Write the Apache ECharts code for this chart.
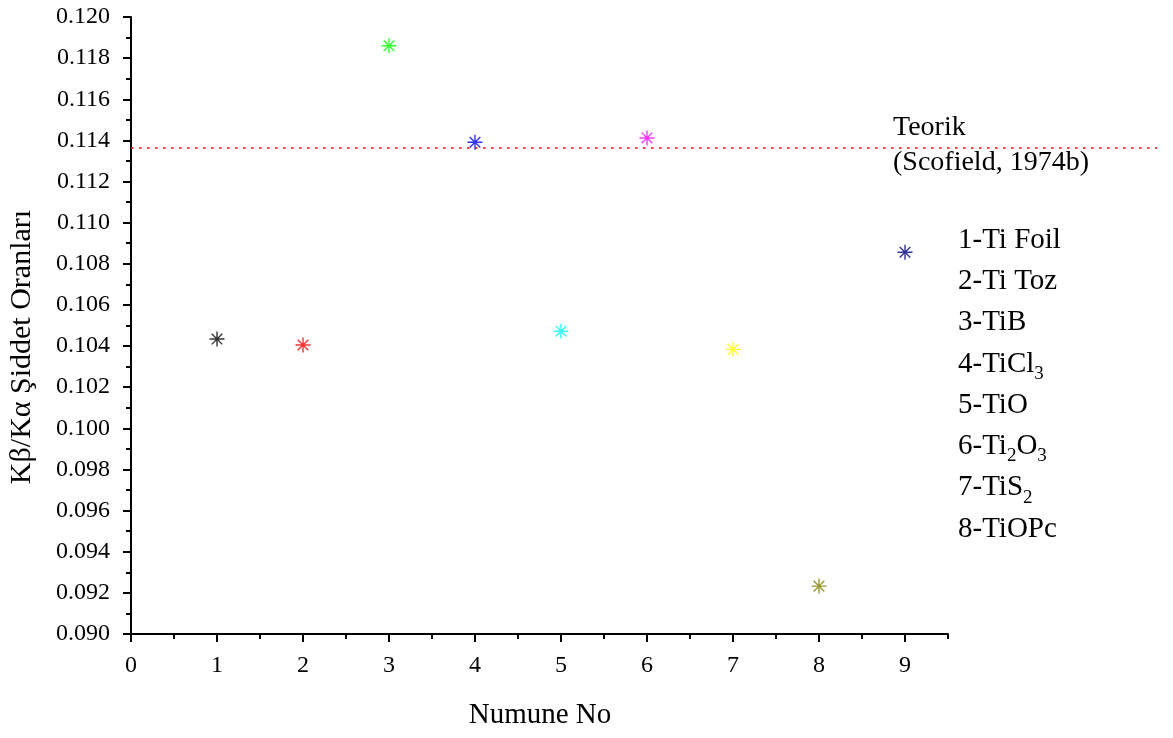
<!DOCTYPE html>
<html><head><meta charset="utf-8">
<script src="https://cdn.jsdelivr.net/npm/echarts@6/dist/echarts.min.js"></script>
<style>html,body{margin:0;padding:0;background:#fff}#c{width:1173px;height:738px}</style>
</head><body><div id="c"></div>
<script>
// Kβ/Kα intensity ratios per sample
const sampleNo = [1, 2, 3, 4, 5, 6, 7, 8, 9];
const ratios = [0.10434, 0.10405, 0.11860, 0.11391, 0.10472, 0.11412, 0.10384, 0.09233, 0.10856];
const pointColors = ['#000000', '#ff0000', '#00ff00', '#0000ff', '#00ffff', '#ff00ff', '#ffff00', '#808000', '#000080'];
const theoretical = 0.11363;
const xTicks = [0, 1, 2, 3, 4, 5, 6, 7, 8, 9];
const xMinorTicks = [0.5, 1.5, 2.5, 3.5, 4.5, 5.5, 6.5, 7.5, 8.5, 9.5];
const sampleNames = ['1-Ti Foil', '2-Ti Toz', '3-TiB', '4-TiCl{s|3}', '5-TiO', '6-Ti{s|2}O{s|3}', '7-TiS{s|2}', '8-TiOPc'];
const refLines = ['Teorik', '(Scofield, 1974b)'];

const FONT = "'Liberation Serif', 'Times New Roman', serif";
const ASTERISK = 'path://M10,0L10,20M0,10L20,10M2.93,2.93L17.07,17.07M2.93,17.07L17.07,2.93';

const chart = echarts.init(document.getElementById('c'), null, { renderer: 'canvas' });

const axisLine = { show: true, lineStyle: { color: '#000', width: 2 } };

const option = {
  backgroundColor: '#fff',
  animation: false,
  grid: { left: 131, right: 225, top: 17, bottom: 104, containLabel: false },
  xAxis: [{
    type: 'value', min: 0, max: 9.5,
    axisLine: axisLine,
    splitLine: { show: false },
    axisTick: { show: true, inside: false, length: 8, customValues: xTicks, lineStyle: { color: '#000', width: 2 } },
    axisLabel: { customValues: xTicks, margin: 20, color: '#000', fontFamily: FONT, fontSize: 24 }
  }, {
    type: 'value', min: 0, max: 9.5, position: 'bottom',
    axisLine: { show: false },
    splitLine: { show: false },
    axisTick: { show: true, inside: false, length: 5, customValues: xMinorTicks, lineStyle: { color: '#000', width: 2 } },
    axisLabel: { show: false }
  }],
  yAxis: {
    type: 'value', min: 0.090, max: 0.120, interval: 0.002,
    axisLine: axisLine,
    splitLine: { show: false },
    axisTick: { show: true, inside: false, length: 8, lineStyle: { color: '#000', width: 2 } },
    minorTick: { show: true, splitNumber: 2, length: 5, lineStyle: { color: '#000', width: 2 } },
    axisLabel: { margin: 21, color: '#000', fontFamily: FONT, fontSize: 24, formatter: v => v.toFixed(3) }
  },
  series: [{
    type: 'scatter',
    symbol: ASTERISK,
    symbolSize: 15,
    data: sampleNo.map((n, i) => ({
      value: [n, ratios[i]],
      itemStyle: { color: 'rgba(0,0,0,0)', borderColor: pointColors[i], borderWidth: 1.4 }
    }))
  }]
};
chart.setOption(option);

// Theoretical reference line and annotations
const x0 = chart.convertToPixel({ xAxisIndex: 0 }, 0);
const yRef = chart.convertToPixel({ yAxisIndex: 0 }, theoretical);
const serifText = (x, y, text, size) => ({
  type: 'text', x: x, y: y,
  style: { text: text, fill: '#000', font: size + 'px ' + FONT, verticalAlign: 'middle' }
});

const graphics = [{
  type: 'line', z: 5,
  shape: { x1: x0, y1: yRef, x2: 1157, y2: yRef },
  style: { stroke: '#ff0000', lineWidth: 1.6, lineDash: [2.5, 5.5] }
}];
graphics.push(serifText(893, 128, refLines[0], 28));
graphics.push(serifText(893, 163, refLines[1], 28));

sampleNames.forEach((t, i) => {
  graphics.push({
    type: 'text', x: 958, y: 240 + i * 41.3,
    style: {
      text: t, fill: '#000', fontFamily: FONT, fontSize: 29, verticalAlign: 'middle',
      rich: { s: { fontFamily: FONT, fontSize: 19, padding: [20, 0, 0, 0], fill: '#000' } }
    }
  });
});

// axis titles
graphics.push({
  type: 'text', x: 540, y: 715,
  style: { text: 'Numune No', fill: '#000', font: '29px ' + FONT, align: 'center', verticalAlign: 'middle' }
});
graphics.push({
  type: 'text', x: 22, y: 347, rotation: Math.PI / 2,
  style: { text: 'Kβ/Kα Şiddet Oranları', fill: '#000', font: '30px ' + FONT, align: 'center', verticalAlign: 'middle' }
});

chart.setOption({ graphic: graphics });
</script>
</body></html>
